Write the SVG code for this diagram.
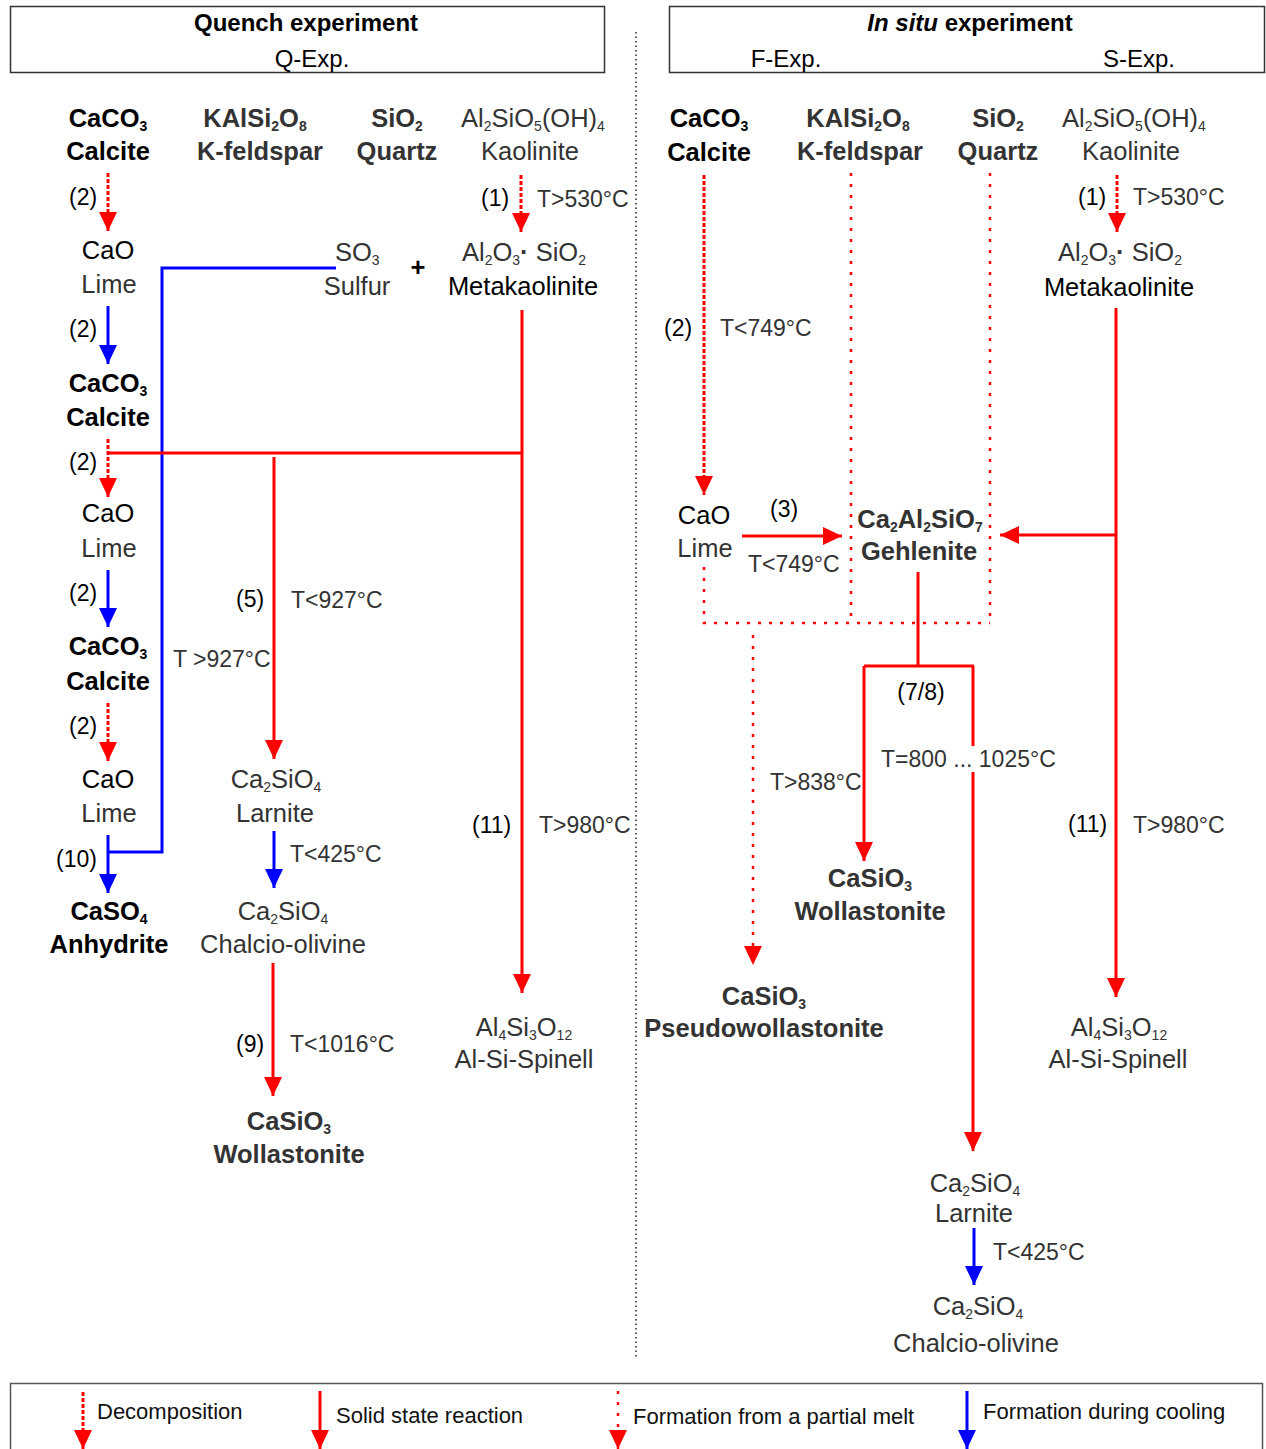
<svg xmlns="http://www.w3.org/2000/svg" width="1266" height="1449" viewBox="0 0 1266 1449">
<style>
text{font-family:"Liberation Sans",Arial,sans-serif;font-size:25.5px}
.b{font-weight:bold}
.k{fill:#000}
.g{fill:#333}
.m{text-anchor:middle}
.s{font-size:14px}
.l{font-size:23px}
.h{font-size:24px}
.lg{font-size:22px;fill:#111}
.red{stroke:#ff0000;stroke-width:3;fill:none}
.blue{stroke:#0000ff;stroke-width:3;fill:none}
.dec{stroke:#ff0000;stroke-width:3;stroke-dasharray:4 2;fill:none}
.melt{stroke:#ff0000;stroke-width:2.5;stroke-dasharray:3 8;fill:none}
.ra{marker-end:url(#ar)}
.ba{marker-end:url(#ab)}
</style>
<defs>
<marker id="ar" markerUnits="userSpaceOnUse" markerWidth="20" markerHeight="18" refX="19" refY="9" orient="auto"><path d="M0,0 L19,9 L0,18 z" fill="#ff0000"/></marker>
<marker id="ab" markerUnits="userSpaceOnUse" markerWidth="20" markerHeight="18" refX="19" refY="9" orient="auto"><path d="M0,0 L19,9 L0,18 z" fill="#0000ff"/></marker>
</defs>
<rect width="1266" height="1449" fill="#fff"/>

<g id="header-quench">
<rect x="10.5" y="6.5" width="594" height="66" fill="none" stroke="#333" stroke-width="1.5"/>
<text class="h b k m" x="306" y="31">Quench experiment</text>
<text class="h k m" x="312" y="67">Q-Exp.</text>
</g>
<g id="header-insitu">
<rect x="669.5" y="6.5" width="595" height="66" fill="none" stroke="#333" stroke-width="1.5"/>
<text class="h b k m" x="970" y="31"><tspan font-style="italic">In situ</tspan> experiment</text>
<text class="h k m" x="786" y="67">F-Exp.</text>
<text class="h k m" x="1139" y="67">S-Exp.</text>
</g>
<g id="divider"><path d="M636,32 V1357" stroke="#222" stroke-width="1.5" stroke-dasharray="1.5 3" fill="none"/></g>

<g id="connectors">
<path class="dec ra" d="M108,173 V231"/>
<path class="dec ra" d="M521,175 V232"/>
<path class="blue" d="M336,268 H162 V852 H108"/>
<path class="blue ba" d="M108,306 V364"/>
<path class="dec ra" d="M108,439 V497"/>
<path class="red" d="M108,453 H522"/>
<path class="red ra" d="M522,310 V993"/>
<path class="red ra" d="M274,457 V759"/>
<path class="blue ba" d="M108,570 V627"/>
<path class="dec ra" d="M108,703 V761"/>
<path class="blue ba" d="M108,835 V893"/>
<path class="blue ba" d="M274,831 V888"/>
<path class="red ra" d="M273,963 V1096"/>
<path class="dec ra" d="M704,175 V495"/>
<path class="melt" d="M851,173 V622"/>
<path class="melt" d="M990,173 V622"/>
<path class="melt" d="M704,567 V623 H990"/>
<path class="melt ra" d="M753,635 V965"/>
<path class="red ra" d="M742,536 H842"/>
<path class="red ra" d="M1116,535 H1000"/>
<path class="red ra" d="M1116,308 V997"/>
<path class="dec ra" d="M1117,175 V232"/>
<path class="red" d="M918,572 V666 M864,666 H974 M973,666 V746"/>
<path class="red ra" d="M864,666 V861"/>
<path class="red ra" d="M973,772 V1151"/>
<path class="blue ba" d="M974,1228 V1285"/>
</g>

<g id="labels">
<text class="l k" x="69" y="205">(2)</text>
<text class="l k" x="481" y="206">(1)</text>
<text class="l g" x="537" y="207">T&gt;530°C</text>
<text class="l k" x="69" y="337">(2)</text>
<text class="l k" x="69" y="470">(2)</text>
<text class="l k" x="69" y="601">(2)</text>
<text class="l k" x="236" y="607">(5)</text>
<text class="l g" x="291" y="608">T&lt;927°C</text>
<text class="l g" x="173" y="667">T &gt;927°C</text>
<text class="l k" x="69" y="734">(2)</text>
<text class="l k" x="56" y="867">(10)</text>
<text class="l g" x="290" y="862">T&lt;425°C</text>
<text class="l k" x="472" y="833">(11)</text>
<text class="l g" x="539" y="833">T&gt;980°C</text>
<text class="l k" x="236" y="1052">(9)</text>
<text class="l g" x="290" y="1052">T&lt;1016°C</text>
<text class="l k" x="1078" y="205">(1)</text>
<text class="l g" x="1133" y="205">T&gt;530°C</text>
<text class="l k" x="664" y="336">(2)</text>
<text class="l g" x="720" y="336">T&lt;749°C</text>
<text class="l k" x="770" y="517">(3)</text>
<text class="l g" x="748" y="572">T&lt;749°C</text>
<text class="l k m" x="921" y="700">(7/8)</text>
<text class="l g" x="770" y="790">T&gt;838°C</text>
<text class="l g" x="881" y="767">T=800 ... 1025°C</text>
<text class="l k" x="1068" y="832">(11)</text>
<text class="l g" x="1133" y="833">T&gt;980°C</text>
<text class="l g" x="993" y="1260">T&lt;425°C</text>
</g>

<g id="q-calcite"><text class="b k m" x="108" y="127">CaCO<tspan class="s" dy="4">3</tspan></text><text class="b k m" x="108" y="160">Calcite</text></g>
<g id="q-kfeldspar"><text class="b g m" x="255" y="127">KAlSi<tspan class="s" dy="4">2</tspan><tspan dy="-4">O</tspan><tspan class="s" dy="4">8</tspan></text><text class="b g m" x="260" y="160">K-feldspar</text></g>
<g id="q-quartz"><text class="b g m" x="397" y="127">SiO<tspan class="s" dy="4">2</tspan></text><text class="b g m" x="397" y="160">Quartz</text></g>
<g id="q-kaolinite"><text class="g m" x="533" y="127">Al<tspan class="s" dy="4">2</tspan><tspan dy="-4">SiO</tspan><tspan class="s" dy="4">5</tspan><tspan dy="-4">(OH)</tspan><tspan class="s" dy="4">4</tspan></text><text class="g m" x="530" y="160">Kaolinite</text></g>
<g id="q-lime1"><text class="k m" x="108" y="259">CaO</text><text class="g m" x="109" y="293">Lime</text></g>
<g id="q-sulfur"><text class="g" x="335" y="261">SO<tspan class="s" dy="4">3</tspan></text><text class="g m" x="357" y="295">Sulfur</text></g>
<g id="q-plus"><text class="b k m" x="418" y="276">+</text></g>
<g id="q-metakaolinite"><text class="g m" x="524" y="261">Al<tspan class="s" dy="4">2</tspan><tspan dy="-4">O</tspan><tspan class="s" dy="4">3</tspan><tspan class="b" dy="-4">·</tspan> SiO<tspan class="s" dy="4">2</tspan></text><text class="k m" x="523" y="295">Metakaolinite</text></g>
<g id="q-calcite2"><text class="b k m" x="108" y="392">CaCO<tspan class="s" dy="4">3</tspan></text><text class="b k m" x="108" y="426">Calcite</text></g>
<g id="q-lime2"><text class="k m" x="108" y="522">CaO</text><text class="g m" x="109" y="557">Lime</text></g>
<g id="q-calcite3"><text class="b k m" x="108" y="655">CaCO<tspan class="s" dy="4">3</tspan></text><text class="b k m" x="108" y="690">Calcite</text></g>
<g id="q-lime3"><text class="k m" x="108" y="788">CaO</text><text class="g m" x="109" y="822">Lime</text></g>
<g id="q-anhydrite"><text class="b k m" x="109" y="920">CaSO<tspan class="s" dy="4">4</tspan></text><text class="b k m" x="109" y="953">Anhydrite</text></g>
<g id="q-larnite"><text class="g m" x="276" y="788">Ca<tspan class="s" dy="4">2</tspan><tspan dy="-4">SiO</tspan><tspan class="s" dy="4">4</tspan></text><text class="g m" x="275" y="822">Larnite</text></g>
<g id="q-chalcio"><text class="g m" x="283" y="920">Ca<tspan class="s" dy="4">2</tspan><tspan dy="-4">SiO</tspan><tspan class="s" dy="4">4</tspan></text><text class="g m" x="283" y="953">Chalcio-olivine</text></g>
<g id="q-wollastonite"><text class="b g m" x="289" y="1130">CaSiO<tspan class="s" dy="4">3</tspan></text><text class="b g m" x="289" y="1163">Wollastonite</text></g>
<g id="q-spinell"><text class="g m" x="524" y="1036">Al<tspan class="s" dy="4">4</tspan><tspan dy="-4">Si</tspan><tspan class="s" dy="4">3</tspan><tspan dy="-4">O</tspan><tspan class="s" dy="4">12</tspan></text><text class="g m" x="524" y="1068">Al-Si-Spinell</text></g>

<g id="i-calcite"><text class="b k m" x="709" y="127">CaCO<tspan class="s" dy="4">3</tspan></text><text class="b k m" x="709" y="161">Calcite</text></g>
<g id="i-kfeldspar"><text class="b g m" x="858" y="127">KAlSi<tspan class="s" dy="4">2</tspan><tspan dy="-4">O</tspan><tspan class="s" dy="4">8</tspan></text><text class="b g m" x="860" y="160">K-feldspar</text></g>
<g id="i-quartz"><text class="b g m" x="998" y="127">SiO<tspan class="s" dy="4">2</tspan></text><text class="b g m" x="998" y="160">Quartz</text></g>
<g id="i-kaolinite"><text class="g m" x="1134" y="127">Al<tspan class="s" dy="4">2</tspan><tspan dy="-4">SiO</tspan><tspan class="s" dy="4">5</tspan><tspan dy="-4">(OH)</tspan><tspan class="s" dy="4">4</tspan></text><text class="g m" x="1131" y="160">Kaolinite</text></g>
<g id="i-metakaolinite"><text class="g m" x="1120" y="261">Al<tspan class="s" dy="4">2</tspan><tspan dy="-4">O</tspan><tspan class="s" dy="4">3</tspan><tspan class="b" dy="-4">·</tspan> SiO<tspan class="s" dy="4">2</tspan></text><text class="k m" x="1119" y="296">Metakaolinite</text></g>
<g id="i-lime"><text class="k m" x="704" y="524">CaO</text><text class="g m" x="705" y="557">Lime</text></g>
<g id="i-gehlenite"><text class="b g m" x="920" y="528">Ca<tspan class="s" dy="4">2</tspan><tspan dy="-4">Al</tspan><tspan class="s" dy="4">2</tspan><tspan dy="-4">SiO</tspan><tspan class="s" dy="4">7</tspan></text><text class="b g m" x="919" y="560">Gehlenite</text></g>
<g id="i-wollastonite"><text class="b g m" x="870" y="887">CaSiO<tspan class="s" dy="4">3</tspan></text><text class="b g m" x="870" y="920">Wollastonite</text></g>
<g id="i-pseudowollastonite"><text class="b g m" x="764" y="1005">CaSiO<tspan class="s" dy="4">3</tspan></text><text class="b g m" x="764" y="1037">Pseudowollastonite</text></g>
<g id="i-spinell"><text class="g m" x="1119" y="1036">Al<tspan class="s" dy="4">4</tspan><tspan dy="-4">Si</tspan><tspan class="s" dy="4">3</tspan><tspan dy="-4">O</tspan><tspan class="s" dy="4">12</tspan></text><text class="g m" x="1118" y="1068">Al-Si-Spinell</text></g>
<g id="i-larnite"><text class="g m" x="975" y="1192">Ca<tspan class="s" dy="4">2</tspan><tspan dy="-4">SiO</tspan><tspan class="s" dy="4">4</tspan></text><text class="g m" x="974" y="1222">Larnite</text></g>
<g id="i-chalcio"><text class="g m" x="978" y="1315">Ca<tspan class="s" dy="4">2</tspan><tspan dy="-4">SiO</tspan><tspan class="s" dy="4">4</tspan></text><text class="g m" x="976" y="1352">Chalcio-olivine</text></g>

<g id="legend">
<rect x="10.5" y="1383.5" width="1252" height="70" fill="none" stroke="#555" stroke-width="1.5"/>
<path class="dec ra" d="M83,1392 V1449"/>
<text class="lg" x="97" y="1419">Decomposition</text>
<path class="red ra" d="M320,1391 V1449"/>
<text class="lg" x="336" y="1423">Solid state reaction</text>
<path class="melt ra" d="M618,1391 V1449"/>
<text class="lg" x="633" y="1424">Formation from a partial melt</text>
<path class="blue ba" d="M967,1391 V1449"/>
<text class="lg" x="983" y="1419">Formation during cooling</text>
</g>
</svg>
